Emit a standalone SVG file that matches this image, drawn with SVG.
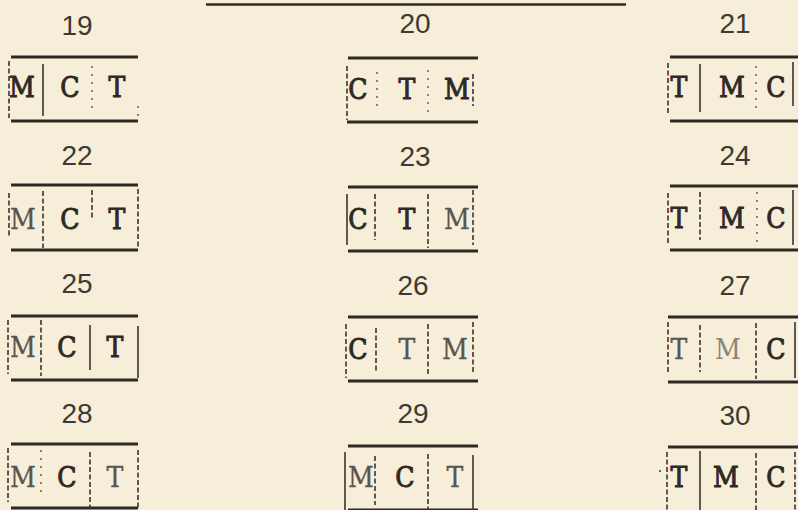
<svg xmlns="http://www.w3.org/2000/svg" width="798" height="510" viewBox="0 0 798 510">
<style>
.bg{fill:#f6eed8}
.h{stroke:#2e2924;stroke-width:3;fill:none}
.s{stroke:#3a342e;stroke-width:1.6;fill:none}
.d{stroke:#3a342e;stroke-width:1.6;fill:none;stroke-dasharray:5 2.5}
.o{stroke:#5a544d;stroke-width:1.4;fill:none;stroke-dasharray:2 6}
.num{font-family:"Liberation Sans",Arial,sans-serif;font-size:28px;fill:#3e3934;text-anchor:middle}
.l,.lf{font-family:"DejaVu Serif","Liberation Serif",serif;font-stretch:condensed;font-size:28px;text-anchor:middle}
.l{fill:#2e2924;stroke:#2e2924;stroke-width:0.9}
.lf{fill:#5a544d;stroke:#5a544d;stroke-width:0.3}
</style>
<rect class="bg" x="0" y="0" width="798" height="510"/>
<g id="heading">
<line class="h" x1="206" y1="4.5" x2="626" y2="4.5" style="stroke-width:2.5"/>
</g>
<!-- Row 1 -->
<g id="n19">
<text class="num" x="77" y="35">19</text>
<line class="h" x1="11" y1="57" x2="138" y2="57"/><line class="h" x1="11" y1="121" x2="138" y2="121"/>
<line class="d" x1="9" y1="61" x2="9" y2="118"/><line class="s" x1="43" y1="64" x2="43" y2="116"/>
<line class="o" x1="92" y1="66" x2="92" y2="112"/><line class="o" x1="138" y1="106" x2="138" y2="118"/>
<text class="l" x="22" y="97">M</text><text class="l" x="70" y="97">C</text><text class="l" x="117" y="97">T</text>
</g>
<g id="n20">
<text class="num" x="415" y="33">20</text>
<line class="h" x1="348" y1="58" x2="478" y2="58"/><line class="h" x1="347" y1="122" x2="478" y2="122"/>
<line class="d" x1="347" y1="66" x2="347" y2="120"/><line class="o" x1="377" y1="72" x2="377" y2="110"/>
<line class="o" x1="428" y1="70" x2="428" y2="112"/><line class="d" x1="473" y1="74" x2="473" y2="106"/>
<text class="l" x="358" y="99">C</text><text class="l" x="407" y="99">T</text><text class="l" x="457" y="99">M</text>
</g>
<g id="n21">
<text class="num" x="735" y="33">21</text>
<line class="h" x1="670" y1="57" x2="798" y2="57"/><line class="h" x1="670" y1="121" x2="798" y2="121"/>
<line class="d" x1="668" y1="63" x2="668" y2="114"/><line class="s" x1="700" y1="64" x2="700" y2="112"/>
<line class="o" x1="756" y1="66" x2="756" y2="112"/><line class="s" x1="793" y1="62" x2="793" y2="106"/>
<text class="l" x="679" y="97">T</text><text class="l" x="732" y="97">M</text><text class="l" x="776" y="97">C</text>
</g>
<!-- Row 2 -->
<g id="n22">
<text class="num" x="77" y="165">22</text>
<line class="h" x1="11" y1="185" x2="138" y2="185"/><line class="h" x1="11" y1="250" x2="138" y2="250"/>
<line class="d" x1="9" y1="193" x2="9" y2="236"/><line class="d" x1="43" y1="191" x2="43" y2="248"/>
<line class="d" x1="92" y1="190" x2="92" y2="218"/><line class="d" x1="138" y1="189" x2="138" y2="248"/>
<text class="lf" x="23" y="229">M</text><text class="l" x="70" y="229">C</text><text class="l" x="117" y="229">T</text>
</g>
<g id="n23">
<text class="num" x="415" y="166">23</text>
<line class="h" x1="348" y1="187" x2="478" y2="187"/><line class="h" x1="348" y1="251" x2="478" y2="251"/>
<line class="s" x1="347" y1="194" x2="347" y2="245"/><line class="d" x1="375" y1="194" x2="375" y2="240"/>
<line class="d" x1="428" y1="194" x2="428" y2="248"/><line class="d" x1="473" y1="190" x2="473" y2="245"/>
<text class="l" x="358" y="229">C</text><text class="l" x="407" y="229">T</text><text class="lf" x="457" y="229">M</text>
</g>
<g id="n24">
<text class="num" x="735" y="165">24</text>
<line class="h" x1="670" y1="186" x2="798" y2="186"/><line class="h" x1="670" y1="250" x2="798" y2="250"/>
<line class="d" x1="668" y1="193" x2="668" y2="243"/><line class="d" x1="700" y1="192" x2="700" y2="240"/>
<line class="o" x1="757" y1="192" x2="757" y2="243"/><line class="s" x1="793" y1="190" x2="793" y2="245"/>
<text class="l" x="679" y="228">T</text><text class="l" x="732" y="228">M</text><text class="l" x="776" y="228">C</text>
</g>
<!-- Row 3 -->
<g id="n25">
<text class="num" x="77" y="293">25</text>
<line class="h" x1="11" y1="316" x2="138" y2="316"/><line class="h" x1="11" y1="380" x2="138" y2="380"/>
<line class="d" x1="8" y1="320" x2="8" y2="374"/><line class="d" x1="41" y1="320" x2="41" y2="376"/>
<line class="s" x1="90" y1="325" x2="90" y2="370"/><line class="s" x1="138" y1="326" x2="138" y2="378"/>
<text class="lf" x="23" y="357">M</text><text class="l" x="67" y="357">C</text><text class="l" x="115" y="357">T</text>
</g>
<g id="n26">
<text class="num" x="413" y="295">26</text>
<line class="h" x1="348" y1="317" x2="478" y2="317"/><line class="h" x1="348" y1="381" x2="478" y2="381"/>
<line class="d" x1="346" y1="324" x2="346" y2="378"/><line class="d" x1="376" y1="328" x2="376" y2="372"/>
<line class="d" x1="428" y1="324" x2="428" y2="376"/><line class="d" x1="473" y1="322" x2="473" y2="372"/>
<text class="l" x="358" y="359">C</text><text class="lf" x="407" y="359">T</text><text class="lf" x="455" y="359">M</text>
</g>
<g id="n27">
<text class="num" x="735" y="295">27</text>
<line class="h" x1="668" y1="317" x2="798" y2="317"/><line class="h" x1="668" y1="382" x2="798" y2="382"/>
<line class="d" x1="668" y1="322" x2="668" y2="372"/><line class="d" x1="700" y1="325" x2="700" y2="372"/>
<line class="d" x1="756" y1="323" x2="756" y2="379"/><line class="s" x1="795" y1="322" x2="795" y2="378"/>
<text class="lf" x="679" y="359">T</text><text class="lf" x="728" y="359" style="fill:#8a847a;stroke:none">M</text><text class="l" x="776" y="359">C</text>
</g>
<!-- Row 4 -->
<g id="n28">
<text class="num" x="77" y="423">28</text>
<line class="h" x1="11" y1="444" x2="138" y2="444"/><line class="h" x1="11" y1="508" x2="138" y2="508"/>
<line class="d" x1="8" y1="448" x2="8" y2="502"/><line class="o" x1="41" y1="450" x2="41" y2="495"/>
<line class="d" x1="90" y1="452" x2="90" y2="508"/><line class="d" x1="138" y1="450" x2="138" y2="508"/>
<text class="lf" x="23" y="487">M</text><text class="l" x="67" y="487">C</text><text class="lf" x="115" y="487">T</text>
</g>
<g id="n29">
<text class="num" x="413" y="423">29</text>
<line class="h" x1="348" y1="446" x2="478" y2="446"/><line class="h" x1="348" y1="510" x2="478" y2="510"/>
<line class="s" x1="345" y1="452" x2="345" y2="510"/><line class="d" x1="375" y1="456" x2="375" y2="505"/>
<line class="d" x1="428" y1="454" x2="428" y2="510"/><line class="s" x1="473" y1="455" x2="473" y2="510"/>
<text class="lf" x="361" y="487">M</text><text class="l" x="405" y="487">C</text><text class="lf" x="455" y="487">T</text>
</g>
<g id="n30">
<text class="num" x="735" y="425">30</text>
<line class="h" x1="668" y1="447" x2="798" y2="447"/>
<line class="d" x1="667" y1="452" x2="667" y2="510"/><line class="s" x1="700" y1="451" x2="700" y2="510"/>
<line class="d" x1="756" y1="453" x2="756" y2="510"/><line class="d" x1="795" y1="452" x2="795" y2="510"/>
<circle cx="660" cy="471" r="1" fill="#3a342e"/>
<text class="l" x="679" y="487">T</text><text class="l" x="726" y="487">M</text><text class="l" x="776" y="487">C</text>
</g>
</svg>
